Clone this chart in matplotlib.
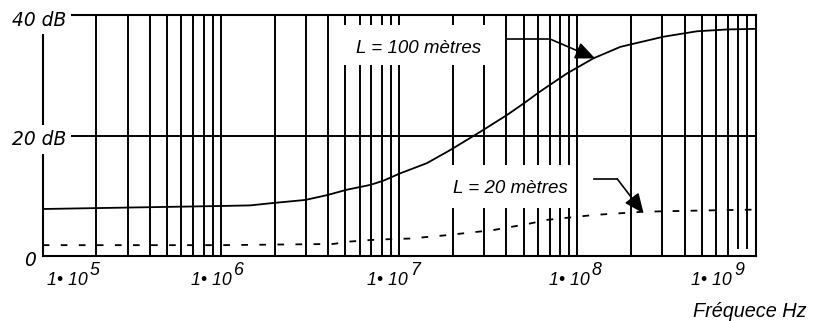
import matplotlib
matplotlib.use("Agg")
import matplotlib.pyplot as plt
from matplotlib.patches import Rectangle

# ---- data ----
freq_100 = [1.0e5, 1.0e6, 1.46e6, 1.97e6, 2.97e6, 3.94e6, 5.09e6, 6.89e6, 8.17e6,
            1.01e7, 1.43e7, 1.94e7, 2.85e7, 4.03e7, 4.99e7, 6.18e7, 8.75e7,
            1.23e8, 1.74e8, 1.98e8, 3.05e8, 4.70e8, 6.93e8, 1.0e9]
db_100 = [7.8, 8.3, 8.4, 8.8, 9.3, 10.1, 11.0, 11.8, 12.5,
          13.7, 15.4, 17.6, 20.6, 23.4, 25.3, 27.3, 30.3,
          32.8, 34.7, 35.1, 36.4, 37.3, 37.6, 37.7]

freq_20 = [1.0e5, 1.0e6, 4.27e6, 5.31e6, 6.89e6, 8.91e6, 1.15e7, 1.77e7,
           3.37e7, 5.24e7, 6.79e7, 1.23e8, 2.35e8, 5.0e8, 1.0e9]
db_20 = [1.8, 1.8, 2.0, 2.4, 2.65, 2.8, 2.9, 3.4,
         4.3, 5.3, 6.0, 6.8, 7.35, 7.55, 7.7]

decades = [1e5, 1e6, 1e7, 1e8, 1e9]
exponents = ["5", "6", "7", "8", "9"]
tick_base = "1\u2022 10"
y_values = [0, 20, 40]
y_labels = ["0", "20 dB", "40 dB"]
label_100 = "L = 100 mètres"
label_20 = "L = 20 mètres"
x_title = "Fréquece Hz"

# ---- figure ----
W, H = 815, 321
fig = plt.figure(figsize=(W / 100, H / 100), dpi=100)
L, R, T, B = 42.7, 755.5, 15.0, 256.0
ax = fig.add_axes([L / W, 1 - B / H, (R - L) / W, (B - T) / H])
ax.set_xscale("log")
ax.set_xlim(decades[0], decades[-1])
ax.set_ylim(y_values[0], y_values[-1])
ax.tick_params(which="both", length=0, labelbottom=False, labelleft=False)
for s in ax.spines.values():
    s.set_linewidth(1.5)
    s.set_color("black")

glw = 1.4
# vertical grid (2..10 times each decade)
for d in decades[:-1]:
    for k in range(2, 11):
        x = k * d
        ymin = 0.033 if (d == 1e8 and k in (8, 9)) else 0.0
        ax.axvline(x, ymin=ymin, ymax=1, color="black", lw=glw, zorder=1)
ax.axhline(20, color="black", lw=glw, zorder=1)

# curves
ax.plot(freq_100, db_100, color="black", lw=1.3, zorder=2)
ax.plot(freq_20, db_20, color="black", lw=1.3, dashes=(3.7, 6.3), zorder=2)

# annotation boxes
ax.add_patch(Rectangle((0.410, 0.793), 0.239, 0.166, transform=ax.transAxes,
                       facecolor="white", edgecolor="none", zorder=3))
ax.add_patch(Rectangle((0.558, 0.199), 0.189, 0.179, transform=ax.transAxes,
                       facecolor="white", edgecolor="none", zorder=3))
afont = dict(family="Liberation Sans", style="italic", size=13.5)
ax.text(0.528, 0.842, label_100, transform=ax.transAxes, ha="center",
        va="baseline", zorder=4, **afont)
ax.text(0.656, 0.261, label_20, transform=ax.transAxes, ha="center",
        va="baseline", zorder=4, **afont)

# leaders
ax.plot([0.652, 0.712], [0.900, 0.900], transform=ax.transAxes, color="black",
        lw=1.2, zorder=4)
ax.annotate("", xy=(0.775, 0.820), xytext=(0.712, 0.900), xycoords="axes fraction",
            arrowprops=dict(arrowstyle="-|>,head_length=0.8,head_width=0.35",
                            mutation_scale=15, lw=1.2, color="black",
                            shrinkA=0, shrinkB=0), zorder=4)
ax.plot([0.773, 0.806], [0.320, 0.320], transform=ax.transAxes, color="black",
        lw=1.2, zorder=4)
ax.annotate("", xy=(0.843, 0.177), xytext=(0.806, 0.320), xycoords="axes fraction",
            arrowprops=dict(arrowstyle="-|>,head_length=0.8,head_width=0.35",
                            mutation_scale=15, lw=1.2, color="black",
                            shrinkA=0, shrinkB=0), zorder=4)

# y labels
yfont = dict(family="DejaVu Sans", style="italic", size=13.4)
ypos = {0: (-0.0178, -0.0166), 20: (-0.0045, 0.483), 40: (-0.0045, 0.979)}
for v, lab in zip(y_values, y_labels):
    xf, yf = ypos[v]
    kw = {}
    if v != 0:
        kw["bbox"] = dict(facecolor="white", edgecolor="none", pad=3.5)
    ax.text(xf, yf, lab, transform=ax.transAxes, ha="center", va="center",
            zorder=10, clip_on=False, **yfont, **kw)

# x tick labels (Mathcad-style, large exponent)
tfont = dict(family="Liberation Sans", style="italic", size=12.8)
center_off = [34, 0, -2, 1.5, -34.5]
pt = 0.72
for d, e, c in zip(decades, exponents, center_off):
    ax.annotate(tick_base, xy=(d, 0), xycoords=("data", "axes fraction"),
                xytext=((c + 11) * pt, -29 * pt), textcoords="offset points",
                ha="right", va="baseline", annotation_clip=False, **tfont)
    ax.annotate(e, xy=(d, 0), xycoords=("data", "axes fraction"),
                xytext=((c + 13) * pt, -19 * pt), textcoords="offset points",
                ha="left", va="baseline", annotation_clip=False, **tfont)

fig.text(693 / W, 1 - 317 / H, x_title, ha="left", va="baseline",
         family="Liberation Sans", style="italic", size=14.3)

fig.savefig("out.png", dpi=100)
